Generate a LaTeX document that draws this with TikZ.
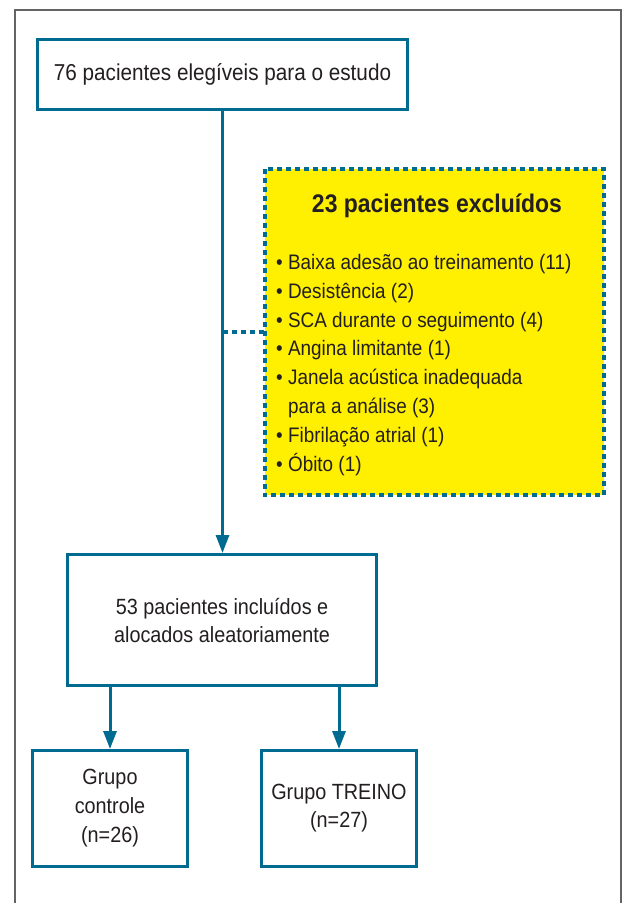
\documentclass[tikz,border=0pt]{standalone}
\usepackage{fontspec}
\setmainfont{Liberation Sans}[FakeStretch=0.9]
\usetikzlibrary{arrows.meta}
\definecolor{fblue}{RGB}{0,107,145}
\definecolor{fyellow}{RGB}{255,239,0}
\definecolor{ftext}{RGB}{35,31,32}
\definecolor{fframe}{RGB}{100,100,102}
\tikzset{
  box/.style={draw=fblue, line width=3pt, fill=white, align=center, text=ftext, inner sep=0pt},
  conn/.style={draw=fblue, line width=3pt},
  arr/.style={conn, -{Triangle[width=13pt,length=18pt]}},
  dotline/.style={draw=fblue, line width=4.5pt, dash pattern=on 5pt off 4pt},
}
\begin{document}
\begin{tikzpicture}[x=1pt,y=-1pt]
\useasboundingbox (0,0) rectangle (624,903);
% outer frame (open at the bottom)
\draw[fframe, line width=1.3pt] (15,910) -- (15,10) -- (621,10) -- (621,910);

\node[box, minimum width=370pt, minimum height=70pt, font=\fontsize{23}{28}\selectfont]
  (b1) at (222.5,74.5) {76 pacientes elegíveis para o estudo};

\node[box, minimum width=309pt, minimum height=131pt, font=\fontsize{22}{28}\selectfont]
  (b3) at (222,620) {53 pacientes incluídos e\\alocados aleatoriamente};

\node[box, minimum width=155pt, minimum height=116pt, font=\fontsize{22}{29}\selectfont]
  (b4) at (110,808.5) {Grupo\\controle\\(n=26)};

\node[box, minimum width=155pt, minimum height=116pt, font=\fontsize{22}{28}\selectfont]
  (b5) at (339,808.5) {Grupo TREINO\\(n=27)};

% excluded box
\node[fill=fyellow, minimum width=339pt, minimum height=326pt, inner sep=0pt] (ex) at (434.5,332) {};
\draw[dotline] (ex.north west) rectangle (ex.south east);
\node[anchor=base, text=ftext, font=\fontsize{25.5}{30}\selectfont\bfseries, inner sep=0pt]
  (extitle) at (437,212) {23 pacientes excluídos};
\node[anchor=base west, text=ftext, align=left, inner sep=0pt,
  font=\fontsize{21}{28.8}\selectfont] (exlist) at (276,471)
  {• Baixa adesão ao treinamento (11)\\
   • Desistência (2)\\
   • SCA durante o seguimento (4)\\
   • Angina limitante (1)\\
   • Janela acústica inadequada\\
   \phantom{• }para a análise (3)\\
   • Fibrilação atrial (1)\\
   • Óbito (1)};

% connectors
\coordinate (jn) at (b1.south |- ex.west);
\draw[arr] (b1.south) -- (b1.south |- b3.north);
\draw[dotline] (jn) -- (ex.west);
\draw[arr] (b4.north |- b3.south) -- (b4.north);
\draw[arr] (b5.north |- b3.south) -- (b5.north);
\end{tikzpicture}
\end{document}
